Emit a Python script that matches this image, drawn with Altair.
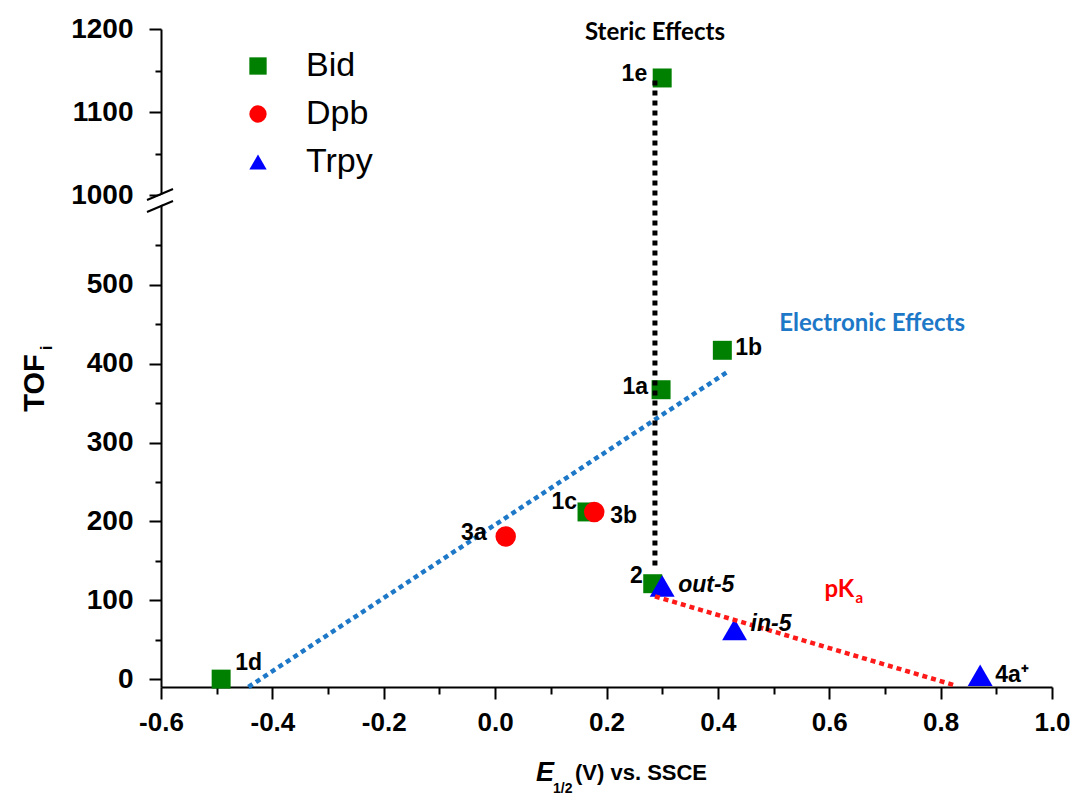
import altair as alt
import pandas as pd

# ---------------- data ----------------
series = ["Bid", "Dpb", "Trpy"]
series_colors = ["#008000", "#ff0000", "#0000ff"]
series_shapes = ["square", "circle", "triangle-up"]
series_sizes = [360, 420, 620]

bid_labels = ["1e", "1b", "1a", "1c", "2", "1d"]
bid_e = [0.300, 0.408, 0.298, 0.165, 0.283, -0.492]
bid_tof = [1141, 417, 367, 212, 121, 0]

dpb_labels = ["3a", "3b"]
dpb_e = [0.019, 0.178]
dpb_tof = [181, 212]

trpy_labels = ["out-5", "in-5", "4a\u207a"]
trpy_e = [0.300, 0.430, 0.871]
trpy_tof = [118, 63, 5]

electronic_e = [-0.443, 0.418]
electronic_tof = [-10, 390]
steric_e = [0.287, 0.287]
steric_tof = [144, 1139]
pka_e = [0.287, 0.826]
pka_tof = [105, -8]

annot_text = ["Steric Effects", "Electronic Effects"]
annot_e = [0.287, 0.677]
annot_tof = [1195, 450]

x_ticks = [-0.6, -0.5, -0.4, -0.3, -0.2, -0.1, 0.0, 0.1, 0.2, 0.3, 0.4,
           0.5, 0.6, 0.7, 0.8, 0.9, 1.0]
y_ticks = [0, 50, 100, 150, 200, 250, 300, 350, 400, 450, 500, 550,
           1000, 1050, 1100, 1150, 1200]

# ---------------- styling ----------------
ARIAL = "Liberation Sans, Arial, sans-serif"
CALIBRI = "Lato, Open Sans, sans-serif"

label_style = {
    "1e": ("right", -15, -4, "normal"),
    "1b": ("left", 13, -2, "normal"),
    "1a": ("right", -13, -3, "normal"),
    "1c": ("right", -10, -10, "normal"),
    "2": ("right", -10, -8, "normal"),
    "1d": ("left", 14, -16, "normal"),
    "3a": ("right", -19, -3, "normal"),
    "3b": ("left", 16, 4, "normal"),
    "out-5": ("left", 16, -1, "italic"),
    "in-5": ("left", 16, -5, "italic"),
    "4a\u207a": ("left", 15, 0, "normal"),
}

rows = []
for name, labs, es, ts in [("Bid", bid_labels, bid_e, bid_tof),
                           ("Dpb", dpb_labels, dpb_e, dpb_tof),
                           ("Trpy", trpy_labels, trpy_e, trpy_tof)]:
    for l, e, t in zip(labs, es, ts):
        rows.append({"ligand": name, "label": l, "E": e, "TOF": t})
points_df = pd.DataFrame(rows)

x_axis = alt.Axis(
    values=x_ticks, format=".1f",
    labelExpr="abs(round(datum.value*10)) % 2 === 0 ? replace(datum.label, '\u2212', '-') : ''",
    tickSize={"condition": {"test": "abs(round(datum.value*10)) % 2 === 0", "value": 12}, "value": 7},
    tickWidth=2, tickColor="black", domainWidth=2, domainColor="black",
    labelFont=ARIAL, labelFontSize=26, labelFontWeight="bold", labelColor="black",
    labelPadding=10, labelFlush=False, labelOverlap=False, grid=False, title=None,
)
y_axis = alt.Axis(
    values=y_ticks, format="d",
    labelExpr="datum.value % 100 === 0 ? datum.label : ''",
    tickSize={"condition": {"test": "datum.value % 100 === 0", "value": 12}, "value": 6},
    tickWidth=2, tickColor="black", domainWidth=2, domainColor="black",
    labelFont=ARIAL, labelFontSize=28, labelFontWeight="bold", labelColor="black",
    labelPadding=16, labelFlush=False, labelOverlap=False, grid=False, title=None,
)

x_scale = alt.Scale(domain=[-0.6, 1.0], nice=False, zero=False)
y_scale = alt.Scale(domain=[-10, 600, 1000, 1200], range=[658, 177, 166, 0],
                    nice=False, zero=False)

X = alt.X("E:Q", scale=x_scale, axis=x_axis)
Y = alt.Y("TOF:Q", scale=y_scale, axis=y_axis)

legend = alt.Legend(
    title=None, orient="none", legendX=80, legendY=20,
    labelFont=ARIAL, labelFontSize=34, labelColor="black",
    symbolSize=300, symbolStrokeWidth=0, labelOffset=31, rowPadding=14,
    padding=0, symbolOpacity=1,
)
C = alt.Color("ligand:N", scale=alt.Scale(domain=series, range=series_colors), legend=legend)
S = alt.Shape("ligand:N", scale=alt.Scale(domain=series, range=series_shapes), legend=legend)

point_layers = []
for name, sz in zip(series, series_sizes):
    sub = points_df[points_df["ligand"] == name]
    point_layers.append(
        alt.Chart(sub).mark_point(filled=True, opacity=1, strokeWidth=0, size=sz).encode(
            x=X, y=Y, color=C, shape=S)
    )


def dotted(es, ts, color, dash, width):
    df = pd.DataFrame({"E": es, "TOF": ts})
    return alt.Chart(df).mark_line(color=color, strokeWidth=width, strokeDash=dash,
                                   strokeCap="butt").encode(x=X, y=Y)


blue = "#1e78c8"
line_el = dotted(electronic_e, electronic_tof, blue, [5, 4], 4.5)
line_st = dotted(steric_e, steric_tof, "black", [5, 5], 5)
line_pk = dotted(pka_e, pka_tof, "#ff1a1a", [5, 4], 4.5)

label_layers = []
for lab, (align, dx, dy, style) in label_style.items():
    sub = points_df[points_df["label"] == lab]
    label_layers.append(
        alt.Chart(sub).mark_text(
            align=align, baseline="middle", dx=dx, dy=dy, font=ARIAL,
            fontSize=23, fontWeight="bold", fontStyle=style, color="black",
        ).encode(x=X, y=Y, text="label:N")
    )

annot_df = pd.DataFrame({"text": annot_text, "E": annot_e, "TOF": annot_tof,
                         "c": ["black", blue]})
annots = alt.Chart(annot_df).mark_text(
    align="center", baseline="middle", font=CALIBRI, fontSize=24, fontWeight="bold"
).encode(x=X, y=Y, text="text:N", color=alt.Color("c:N", scale=None))

pk_df = pd.DataFrame({"E": [0.645], "TOF": [113], "t": ["pK"]})
pk = alt.Chart(pk_df).mark_text(align="right", baseline="middle", font=CALIBRI,
                                fontSize=24, fontWeight="bold", color="#ff0000").encode(
    x=X, y=Y, text="t:N")
pk_sub_df = pd.DataFrame({"E": [0.647], "TOF": [103], "t": ["a"]})
pk_sub = alt.Chart(pk_sub_df).mark_text(align="left", baseline="middle", font=CALIBRI,
                                        fontSize=15, fontWeight="bold", color="#ff0000").encode(
    x=X, y=Y, text="t:N")

one = alt.Data(values=[{}])
brk_white = alt.Chart(one).mark_rule(color="white", strokeWidth=9).encode(
    x=alt.value(-14), y=alt.value(177), x2=alt.value(12), y2=alt.value(166))
brk1 = alt.Chart(one).mark_rule(color="black", strokeWidth=2).encode(
    x=alt.value(-14), y=alt.value(171), x2=alt.value(12), y2=alt.value(160))
brk2 = alt.Chart(one).mark_rule(color="black", strokeWidth=2).encode(
    x=alt.value(-14), y=alt.value(183), x2=alt.value(12), y2=alt.value(172))


def free_text(t, x, y, size, style="normal", angle=0, align="center"):
    return alt.Chart(one).mark_text(
        text=t, align=align, baseline="middle", font=ARIAL, fontSize=size,
        fontWeight="bold", fontStyle=style, angle=angle, color="black",
    ).encode(x=alt.value(x), y=alt.value(y))


xt_e = free_text("E", 384, 744, 27, style="italic")
xt_sub = free_text("1/2", 392, 760, 14, align="left")
xt_rest = free_text("(V) vs. SSCE", 414, 744, 22, align="left")
yt = free_text("TOF", -126, 354, 29, angle=270)
yt_sub = free_text("i", -114, 319, 17, angle=270)

chart = alt.layer(
    *point_layers, line_el, line_st, line_pk, *label_layers, annots, pk, pk_sub,
    brk_white, brk1, brk2, xt_e, xt_sub, xt_rest, yt, yt_sub,
).properties(
    width=891, height=658,
    autosize=alt.AutoSizeParams(type="none"),
    padding={"left": 161, "top": 29, "right": 27, "bottom": 118},
    background="white",
).configure_view(stroke=None)

chart.save("out.html", embed_options={"renderer": "svg", "actions": False})
